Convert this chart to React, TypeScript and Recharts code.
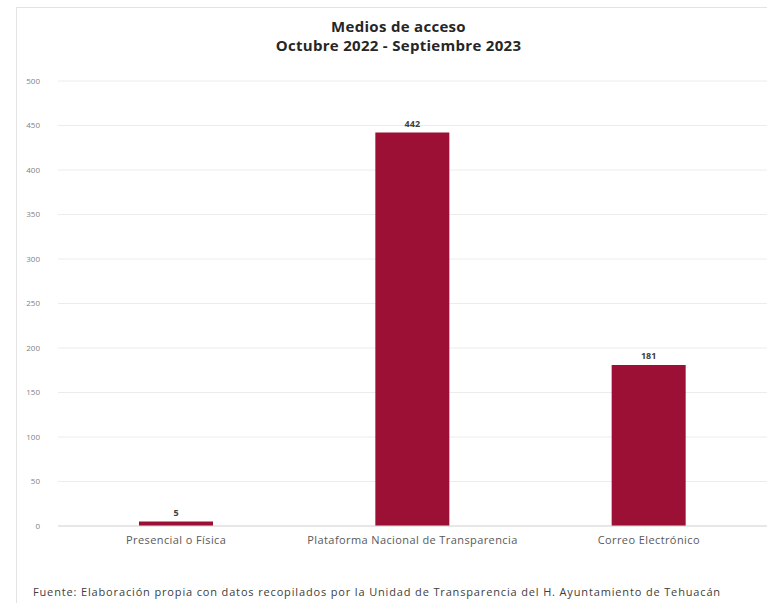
import { Bar, BarChart, CartesianGrid, LabelList, XAxis, YAxis } from "recharts";

const categories = [
  "Presencial o Física",
  "Plataforma Nacional de Transparencia",
  "Correo Electrónico",
];
const solicitudes = [5, 442, 181];
const yTicks = [0, 50, 100, 150, 200, 250, 300, 350, 400, 450, 500];

const data = categories.map((name, i) => ({ name, value: solicitudes[i] }));

const FONT = "'Open Sans', 'DejaVu Sans', sans-serif";

export default function App() {
  return (
    <div
      style={{
        position: "absolute",
        left: 0,
        top: 0,
        width: 767,
        height: 603,
        background: "#fff",
        fontFamily: FONT,
        overflow: "hidden",
      }}
    >
      <div
        style={{
          position: "absolute",
          left: 16,
          top: 7,
          width: 780,
          height: 620,
          border: "1px solid #e3e3e3",
        }}
      />
      <div
        style={{
          position: "absolute",
          top: 17,
          left: 0,
          width: 797,
          textAlign: "center",
          fontSize: 15,
          fontWeight: 700,
          lineHeight: "19px",
          color: "#262626",
          letterSpacing: 0.3,
        }}
      >
        Medios de acceso
        <br />
        Octubre 2022 - Septiembre 2023
      </div>
      <div style={{ position: "absolute", left: 0, top: 0 }}>
        <BarChart
          width={767}
          height={603}
          data={data}
          margin={{ top: 81, right: 0, bottom: 47, left: 0 }}
        >
          <CartesianGrid vertical={false} stroke="#ececec" />
          <XAxis
            dataKey="name"
            tickLine={false}
            axisLine={{ stroke: "#d9d9d9" }}
            tick={{ fill: "#595959", fontSize: 11, fontFamily: FONT, letterSpacing: 0.4 }}
            tickMargin={4}
            interval={0}
          />
          <YAxis
            width={58}
            domain={[0, 500]}
            ticks={yTicks}
            tickLine={false}
            axisLine={false}
            tickMargin={12}
            tick={{ fill: "#7f7f7f", fontSize: 8, fontFamily: FONT }}
          />
          <Bar dataKey="value" fill="#9b1034" barSize={74} isAnimationActive={false}>
            <LabelList
              dataKey="value"
              position="top"
              offset={6}
              style={{ fill: "#404040", fontSize: 9, fontWeight: 700, fontFamily: FONT }}
            />
          </Bar>
        </BarChart>
      </div>
      <div
        style={{
          position: "absolute",
          left: 33,
          top: 584,
          fontSize: 11,
          letterSpacing: 0.85,
          color: "#404040",
          whiteSpace: "nowrap",
        }}
      >
        Fuente: Elaboración propia con datos recopilados por la Unidad de Transparencia del H. Ayuntamiento de Tehuacán
      </div>
    </div>
  );
}
